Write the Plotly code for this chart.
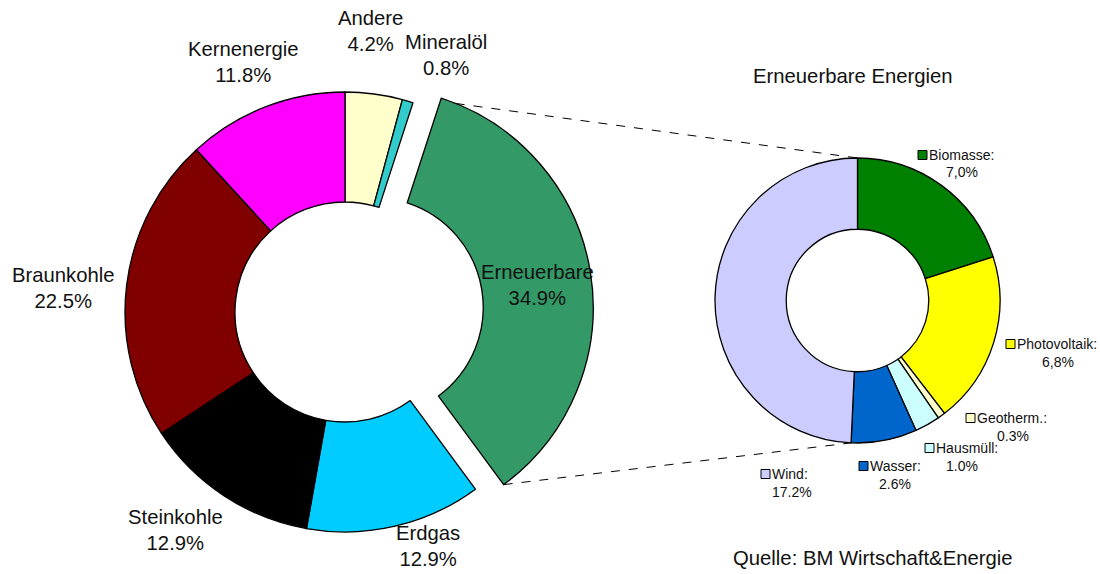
import math
import plotly.graph_objects as go

W, H = 1100, 574

# ---- data ----
main_labels = ["Andere", "Mineralöl", "Erneuerbare", "Erdgas", "Steinkohle", "Braunkohle", "Kernenergie"]
main_values = [4.2, 0.8, 34.9, 12.9, 12.9, 22.5, 11.8]
main_colors = ["#FFFFCC", "#33CCCC", "#339966", "#00CCFF", "#000000", "#800000", "#FF00FF"]
main_pull = [0, 0, 0.13, 0, 0, 0, 0]

ren_labels = ["Biomasse", "Photovoltaik", "Geotherm.", "Hausmüll", "Wasser", "Wind"]
ren_values = [7.0, 6.8, 0.3, 1.0, 2.6, 17.2]
ren_text = ["7,0%", "6,8%", "0.3%", "1.0%", "2.6%", "17.2%"]
ren_colors = ["#008000", "#FFFF00", "#FFFFCC", "#CCFFFF", "#0066CC", "#CCCCFF"]

# ---- geometry (pixels) ----
C1 = (345.0, 312.0); R1 = 220.0; PULL = max(main_pull)
C2 = (857.5, 300.5); R2 = 142.5

def px(x):
    return x / W

def py(y):
    return 1 - y / H

def dom(c, r, pull=0.0):
    s = r * (2 + 2 * pull)
    return dict(x=[px(c[0] - s / 2), px(c[0] + s / 2)], y=[py(c[1] + s / 2), py(c[1] - s / 2)])

fig = go.Figure()
fig.add_trace(go.Pie(
    labels=main_labels, values=main_values, sort=False, direction="clockwise", rotation=0,
    hole=0.5, pull=main_pull, textinfo="none", hoverinfo="label+percent",
    marker=dict(colors=main_colors, line=dict(color="black", width=1.3)),
    domain=dom(C1, R1, PULL), showlegend=False,
))
fig.add_trace(go.Pie(
    labels=ren_labels, values=ren_values, sort=False, direction="clockwise", rotation=0,
    hole=0.5, textinfo="none", hoverinfo="label+value",
    marker=dict(colors=ren_colors, line=dict(color="black", width=1.3)),
    domain=dom(C2, R2), showlegend=False,
))

FONT = "Liberation Sans, Arial"

def note(x, y, text, size, xanchor="center"):
    return dict(x=px(x), y=py(y), xref="paper", yref="paper", showarrow=False,
                xanchor=xanchor, yanchor="middle", text=text, align="center",
                borderpad=0, font=dict(family=FONT, size=size, color="#111"))

# ---- main labels ----
main_label_pos = [(370, 31), (446, 55), (537, 285), (428, 546), (175, 530), (63, 288), (243, 62)]
tot = sum(main_values)
ann = []
for lab, v, (x, y) in zip(main_labels, main_values, main_label_pos):
    ann.append(note(x, y, f"{lab}<br>{v / tot * 100:.1f}%", 20.3))

# ---- renewable labels with colored squares ----
# (square left x, square center y, percent-line center x)
ren_label_pos = [(918, 155, 962), (1006, 344, 1058), (966, 418, 1013), (925, 448, 962), (859, 466, 895), (761, 474, 792)]
shapes = []
for lab, t, col, (sx, sy, tx) in zip(ren_labels, ren_text, ren_colors, ren_label_pos):
    shapes.append(dict(type="rect", xref="paper", yref="paper",
                       x0=px(sx), x1=px(sx + 9), y0=py(sy + 4.5), y1=py(sy - 4.5),
                       fillcolor=col, line=dict(color="black", width=1)))
    ann.append(note(sx + 10, sy, lab + ":", 14, xanchor="left"))
    ann.append(note(tx, sy + 17.5, t, 14))

# ---- connector dashed lines from pulled slice to second pie ----
start = sum(main_values[:2]) / tot * 360
span = main_values[2] / tot * 360
mid = math.radians(start + span / 2)
off = (PULL * R1 * math.sin(mid), -PULL * R1 * math.cos(mid))

def pt(c, r, ang, o=(0, 0)):
    a = math.radians(ang)
    return (c[0] + o[0] + r * math.sin(a), c[1] + o[1] - r * math.cos(a))

p_top = pt(C1, R1, start + 4, off)
p_bot = pt(C1, R1, start + span, off)
q_top = pt(C2, R2, 0)
wind_start = sum(ren_values[:-1]) / sum(ren_values) * 360
q_bot = pt(C2, R2, wind_start)
for a, b in [(p_top, q_top), (p_bot, q_bot)]:
    shapes.append(dict(type="line", xref="paper", yref="paper",
                       x0=px(a[0]), y0=py(a[1]), x1=px(b[0]), y1=py(b[1]),
                       line=dict(color="black", width=1, dash="dash")))

ann.append(note(853, 76, "Erneuerbare Energien", 20.3))
ann.append(note(873, 558, "Quelle: BM Wirtschaft&Energie", 20.3))

fig.update_layout(width=W, height=H, margin=dict(l=0, r=0, t=0, b=0),
                  paper_bgcolor="white", plot_bgcolor="white",
                  annotations=ann, shapes=shapes)
fig.write_html("out.html")
